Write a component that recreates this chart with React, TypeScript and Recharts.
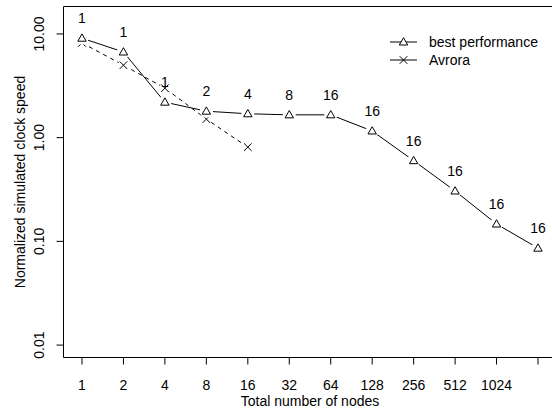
import React from 'react';
import { LineChart, Line, XAxis, YAxis, ReferenceArea, LabelList } from 'recharts';

const nodeIndex = [1, 2, 3, 4, 5, 6, 7, 8, 9, 10, 11, 12];
const nodeLabels = ['1', '2', '4', '8', '16', '32', '64', '128', '256', '512', '1024', ''];
const bestPerformance = [9.1, 6.7, 2.2, 1.8, 1.7, 1.66, 1.66, 1.16, 0.6, 0.306, 0.147, 0.086];
const avroraSpeed: (number | null)[] = [8.2, 5.0, 3.0, 1.51, 0.81, null, null, null, null, null, null, null];
const configLabels = ['1', '1', '1', '2', '4', '8', '16', '16', '16', '16', '16', '16'];
const yTicks = [0.01, 0.1, 1, 10];
const seriesNames = ['best performance', 'Avrora'];

const data = nodeIndex.map((idx, i) => ({
  idx,
  best: bestPerformance[i],
  avrora: avroraSpeed[i],
  cfg: configLabels[i],
}));

const FONT = 'Liberation Sans, Arial, Helvetica, sans-serif';
const FS = 14;

const Triangle = (props: any) => {
  const { cx, cy, index } = props;
  if (cx == null || cy == null) return <g key={`t-${index}`} />;
  return (
    <g key={`t-${index}`}>
      <circle cx={cx} cy={cy} r={6.5} fill="#fff" stroke="none" />
      <path
        d={`M${cx - 4.2},${cy + 3} L${cx + 4.2},${cy + 3} L${cx},${cy - 4.3} Z`}
        fill="none"
        stroke="#000"
        strokeWidth={1}
      />
    </g>
  );
};

const Cross = (props: any) => {
  const { cx, cy, index } = props;
  if (cx == null || cy == null) return <g key={`x-${index}`} />;
  return (
    <g key={`x-${index}`}>
      <circle cx={cx} cy={cy} r={5.5} fill="#fff" stroke="none" />
      <path
        d={`M${cx - 3.8},${cy - 3.8} L${cx + 3.8},${cy + 3.8} M${cx - 3.8},${cy + 3.8} L${cx + 3.8},${cy - 3.8}`}
        stroke="#000"
        strokeWidth={1}
      />
    </g>
  );
};

const YTick = (props: any) => {
  const { y, payload } = props;
  return (
    <text
      x={44}
      y={y}
      transform={`rotate(-90, 44, ${y})`}
      textAnchor="middle"
      fontFamily={FONT}
      fontSize={FS}
      fill="#000"
    >
      {Number(payload.value).toFixed(2)}
    </text>
  );
};

const XTick = (props: any) => {
  const { x, payload } = props;
  return (
    <text x={x} y={390} textAnchor="middle" fontFamily={FONT} fontSize={FS} fill="#000">
      {nodeLabels[payload.value - 1]}
    </text>
  );
};

export default function App() {
  return (
    <div style={{ position: 'absolute', left: 0, top: 0, width: 552, height: 413, overflow: 'hidden', background: '#fff' }}>
      <LineChart
        width={600}
        height={413}
        data={data}
        margin={{ top: 6.5, right: 43.5, bottom: 0, left: 0 }}
      >
        <XAxis
          dataKey="idx"
          type="number"
          domain={[0.554, 12.446]}
          ticks={nodeIndex}
          allowDataOverflow
          axisLine={false}
          tickLine={{ stroke: '#000' }}
          tickSize={7}
          height={55.5}
          tick={<XTick />}
          interval={0}
        />
        <YAxis
          type="number"
          scale="log"
          domain={[0.00759, 18.4]}
          ticks={yTicks}
          allowDataOverflow
          axisLine={false}
          tickLine={{ stroke: '#000' }}
          tickSize={7}
          width={63.5}
          tick={<YTick />}
          interval={0}
        />
        <ReferenceArea
          x1={0.554}
          x2={12.446}
          y1={0.00759}
          y2={18.4}
          fill="none"
          fillOpacity={0}
          stroke="#000"
          strokeWidth={1}
          ifOverflow="visible"
        />
        <Line
          dataKey="avrora"
          name={seriesNames[1]}
          stroke="#000"
          strokeWidth={1}
          strokeDasharray="4 4"
          dot={Cross}
          activeDot={false}
          isAnimationActive={false}
          connectNulls={false}
        />
        <Line
          dataKey="best"
          name={seriesNames[0]}
          stroke="#000"
          strokeWidth={1}
          dot={Triangle}
          activeDot={false}
          isAnimationActive={false}
        >
          <LabelList dataKey="cfg" position="top" offset={15} fontFamily={FONT} fontSize={FS} fill="#000" />
        </Line>
        <g transform="translate(380,30)">
          <line x1={10} y1={12} x2={37} y2={12} stroke="#000" strokeWidth={1} />
          <path d={`M${23.5 - 4.2},${15} L${23.5 + 4.2},${15} L${23.5},${7.7} Z`} fill="#fff" stroke="#000" />
          <text x={49} y={17} fontFamily={FONT} fontSize={FS} fill="#000">{seriesNames[0]}</text>
          <line x1={10} y1={30} x2={37} y2={30} stroke="#000" strokeWidth={1} />
          <path d="M19.7,26.2 L27.3,33.8 M19.7,33.8 L27.3,26.2" stroke="#000" />
          <text x={49} y={35} fontFamily={FONT} fontSize={FS} fill="#000">{seriesNames[1]}</text>
        </g>
        <text
          x={25}
          y={182}
          transform="rotate(-90, 25, 182)"
          textAnchor="middle"
          fontFamily={FONT}
          fontSize={FS}
          fill="#000"
        >
          Normalized simulated clock speed
        </text>
        <text x={310} y={406} textAnchor="middle" fontFamily={FONT} fontSize={FS} fill="#000">
          Total number of nodes
        </text>
      </LineChart>
    </div>
  );
}
